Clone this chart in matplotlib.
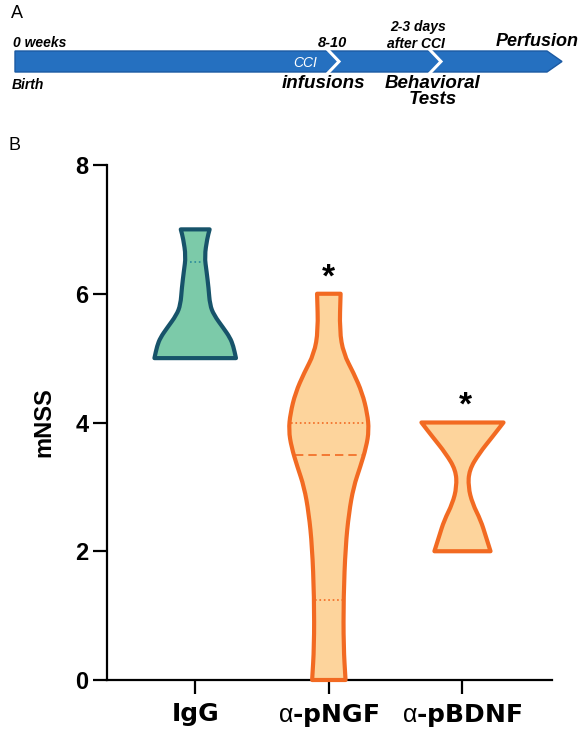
import numpy as np
import matplotlib
matplotlib.use('Agg')
import matplotlib.pyplot as plt
from matplotlib.path import Path
from matplotlib.patches import PathPatch, Polygon

plt.rcParams['font.family'] = ['Liberation Sans', 'DejaVu Sans']
plt.rcParams['mathtext.fontset'] = 'custom'
plt.rcParams['mathtext.rm'] = 'Liberation Sans'

# data: groups, violin outlines (mNSS level, half width), quartile lines
groups = ['IgG', r'$\mathrm{\alpha}$-pNGF', r'$\mathrm{\alpha}$-pBDNF']

igg_y = [5.0, 5.19, 5.32, 5.47, 5.67, 5.83, 6.09, 6.35, 6.58, 6.86, 7.0]
igg_w = [0.305, 0.285, 0.26, 0.21, 0.14, 0.11, 0.1, 0.085, 0.07, 0.09, 0.108]

pngf_y = [0.0, 0.52, 1.29, 2.07, 2.59, 3.0, 3.31, 3.62, 3.88, 4.14, 4.46, 4.77, 5.07, 5.43, 6.0]
pngf_w = [0.125, 0.11, 0.11, 0.125, 0.15, 0.185, 0.235, 0.28, 0.3, 0.288, 0.25, 0.185, 0.11, 0.08, 0.088]

pbdnf_y = [2.0, 2.23, 2.48, 2.74, 3.0, 3.26, 3.52, 3.78, 4.0]
pbdnf_w = [0.21, 0.175, 0.137, 0.075, 0.043, 0.05, 0.125, 0.225, 0.307]

igg_lines = [6.5]
pngf_dotted = [1.25, 4.0]
pngf_median = [3.5]

stars = [(1, 6.25), (2.02, 4.25)]

teal_fill, teal_edge = '#7ccaa9', '#17536a'
orange_fill, orange_edge = '#fdd49c', '#f26a22'


def violin_path(c, ys, ws):
    r = [(c + w, y) for y, w in zip(ys, ws)]
    l = [(c - w, y) for y, w in zip(ys[::-1], ws[::-1])]
    verts, codes = [], []
    for k, side in enumerate([r, l]):
        n = len(side)
        mid = lambda a, b: ((a[0] + b[0]) / 2, (a[1] + b[1]) / 2)
        verts.append(side[0])
        codes.append(Path.MOVETO if k == 0 else Path.LINETO)
        verts.append(mid(side[0], side[1]))
        codes.append(Path.LINETO)
        for i in range(1, n - 1):
            verts += [side[i], mid(side[i], side[i + 1])]
            codes += [Path.CURVE3, Path.CURVE3]
        verts.append(side[-1])
        codes.append(Path.LINETO)
    verts.append(r[0])
    codes.append(Path.CLOSEPOLY)
    return Path(verts, codes)


fig = plt.figure(figsize=(5.82, 7.34), dpi=100)

# ---- panel B
ax = fig.add_axes([107 / 582, 1 - 680 / 734, (552 - 107) / 582, (680 - 165) / 734])
ax.set_xlim(-0.66, 2.67)
ax.set_ylim(0, 8)

specs = [(0, igg_y, igg_w, teal_fill, teal_edge),
         (1, pngf_y, pngf_w, orange_fill, orange_edge),
         (2, pbdnf_y, pbdnf_w, orange_fill, orange_edge)]
for c, ys, ws, fc, ec in specs:
    p = PathPatch(violin_path(c, ys, ws), facecolor=fc, edgecolor=ec, lw=3,
                  joinstyle='round', zorder=3, clip_on=False)
    ax.add_patch(p)

for q in igg_lines:
    hw = np.interp(q, igg_y, igg_w) * 0.55
    ax.plot([-hw, hw], [q, q], ls=':', color='#2a8a9a', lw=1.2, zorder=4)
for q in pngf_dotted:
    hw = np.interp(q, pngf_y, pngf_w) * 0.95
    ax.plot([1 - hw, 1 + hw], [q, q], ls=':', color=orange_edge, lw=1.2, zorder=4)
for q in pngf_median:
    hw = np.interp(q, pngf_y, pngf_w) * 0.95
    ax.plot([1 - hw, 1 + hw], [q, q], ls=(0, (5, 3)), color=orange_edge, lw=1.2, zorder=4)

for x, y in stars:
    ax.text(x, y, '*', ha='center', va='center', fontsize=24, fontweight='bold')

ax.spines['top'].set_visible(False)
ax.spines['right'].set_visible(False)
ax.spines['left'].set_linewidth(1.6)
ax.spines['bottom'].set_linewidth(1.6)
ax.set_yticks([0, 2, 4, 6, 8])
ax.set_xticks([0, 1, 2])
ax.set_xticklabels(groups)
ax.tick_params(axis='both', width=1.6, length=10)
ax.tick_params(axis='y', labelsize=17)
ax.tick_params(axis='x', pad=6)
for lab in ax.get_yticklabels():
    lab.set_fontweight('bold')
for lab in ax.get_xticklabels():
    lab.set_fontweight('bold')
    lab.set_fontfamily('DejaVu Sans')
    lab.set_fontsize(18)
ax.set_ylabel('mNSS', fontsize=17, fontweight='bold', labelpad=14)

# ---- panel A (pixel coords)
ov = fig.add_axes([0, 0, 1, 1], zorder=-1)
ov.set_xlim(0, 582)
ov.set_ylim(734, 0)
ov.axis('off')

arrow = [(15, 51), (547, 51), (562, 61.5), (547, 72), (15, 72)]
ov.add_patch(Polygon(arrow, closed=True, facecolor='#2570c0', edgecolor='#1b5aa3', lw=1))
for nx in [328, 430]:
    ov.plot([nx, nx + 11, nx], [50, 61.5, 73], color='white', lw=2.2,
            solid_joinstyle='miter')

ov.text(17, 14, 'A', fontsize=13, ha='center', va='center')
ov.text(15, 145, 'B', fontsize=13, ha='center', va='center')
bi = dict(fontweight='bold', fontstyle='italic', ha='center', va='center')
ov.text(13, 43, '0 weeks', fontsize=10, fontweight='bold', fontstyle='italic', va='center')
ov.text(12, 85, 'Birth', fontsize=10, fontweight='bold', fontstyle='italic', va='center')
ov.text(305, 63, 'CCI', fontsize=10, fontstyle='italic', color='white', ha='center', va='center')
ov.text(332, 43, '8-10', fontsize=10.5, **bi)
ov.text(323, 83, 'infusions', fontsize=13.5, **bi)
ov.text(418, 27, '2-3 days', fontsize=10, **bi)
ov.text(416, 44, 'after CCI', fontsize=10, **bi)
ov.text(433, 84, 'Behavioral', fontsize=13.5, **bi)
ov.text(433, 100, 'Tests', fontsize=13.5, **bi)
ov.text(537, 42, 'Perfusion', fontsize=13, **bi)

fig.savefig('out.png', dpi=100)
